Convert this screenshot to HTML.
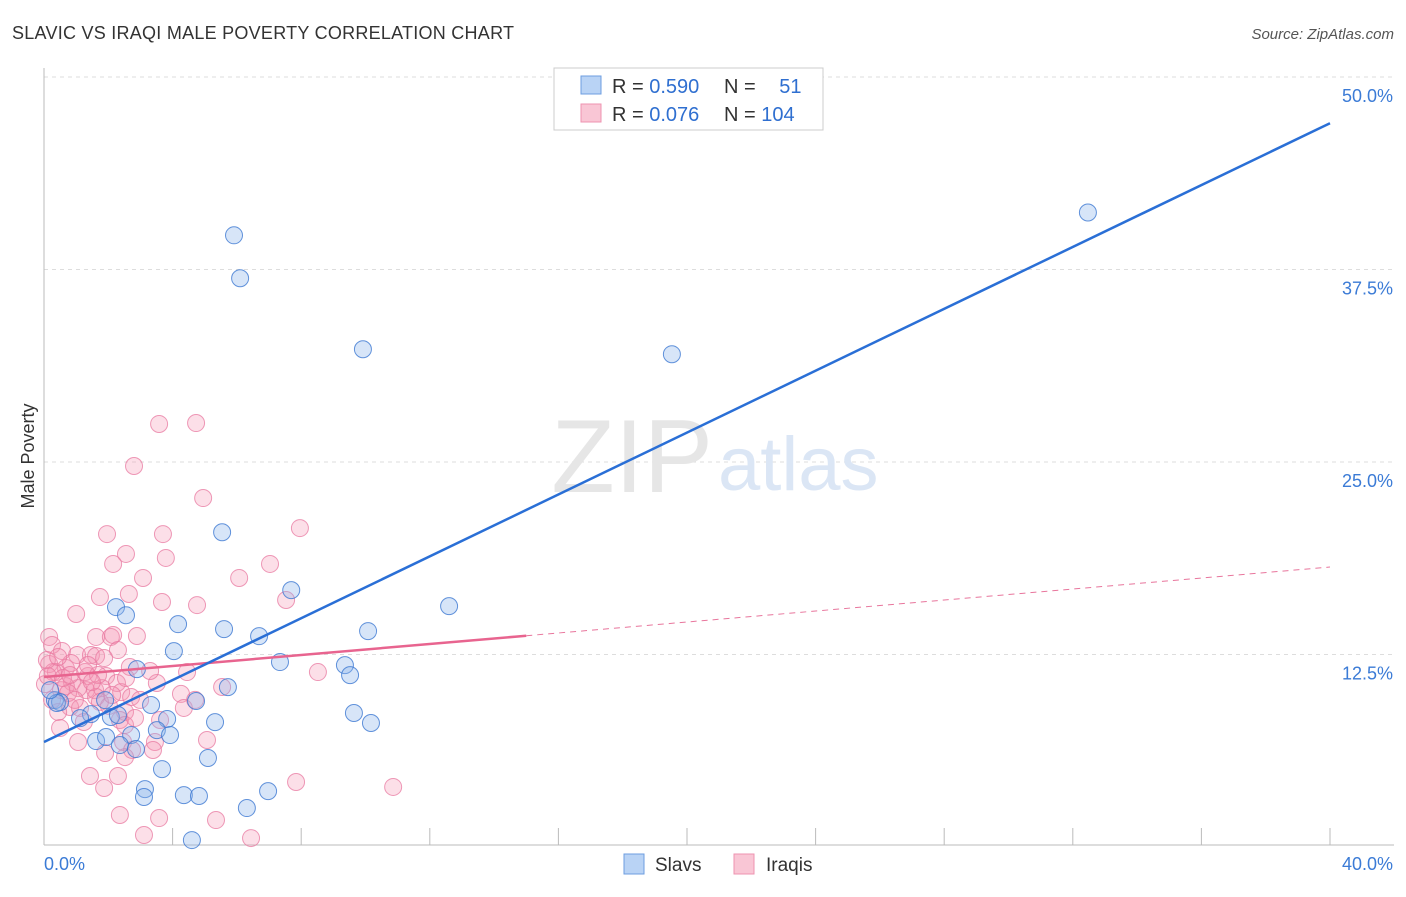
<!DOCTYPE html>
<html><head><meta charset="utf-8"><style>
body{margin:0;background:#fff;font-family:"Liberation Sans",sans-serif}
svg text{font-family:"Liberation Sans",sans-serif}
</style></head><body>
<svg id="chart" width="1406" height="892" xmlns="http://www.w3.org/2000/svg">
<text x="12" y="39" font-size="18" fill="#333" textLength="502" lengthAdjust="spacing">SLAVIC VS IRAQI MALE POVERTY CORRELATION CHART</text>
<text x="1394" y="39" font-size="15" fill="#555" font-style="italic" text-anchor="end">Source: ZipAtlas.com</text>
<g id="grid"></g>
<text x="713" y="492" font-size="104" fill="#e6e6e6" font-family="Liberation Serif" text-anchor="end">ZIP</text>
<text x="718" y="490" font-size="76" fill="#dbe6f5">atlas</text>
<g id="axes"></g>
<g id="marks"></g>
<text transform="translate(34,456) rotate(-90)" font-size="18" fill="#333" text-anchor="middle">Male Poverty</text>
<g>
<rect x="554" y="68" width="269" height="62" fill="#fff" stroke="#ccc"/>
<rect x="581" y="76" width="20" height="18" fill="#b9d3f5" stroke="#6d9ee0"/>
<rect x="581" y="104" width="20" height="18" fill="#f9c6d5" stroke="#ee93b0"/>
<text x="612" y="93" font-size="20" fill="#333">R = <tspan fill="#2f6fd0">0.590</tspan></text>
<text x="724" y="93" font-size="20" fill="#333">N = <tspan fill="#2f6fd0" dx="18">51</tspan></text>
<text x="612" y="121" font-size="20" fill="#333">R = <tspan fill="#2f6fd0">0.076</tspan></text>
<text x="724" y="121" font-size="20" fill="#333">N = <tspan fill="#2f6fd0">104</tspan></text>
</g>
<g>
<rect x="624" y="854" width="20" height="20" fill="#b9d3f5" stroke="#6d9ee0"/>
<text x="655" y="871" font-size="19" fill="#333">Slavs</text>
<rect x="734" y="854" width="20" height="20" fill="#f9c6d5" stroke="#ee93b0"/>
<text x="766" y="871" font-size="19" fill="#333">Iraqis</text>
</g>
</svg>
<script>
const yTicks=[12.5,25,37.5,50];
const yTickLabels=["12.5%","25.0%","37.5%","50.0%"];
const xTickCount=10;
const xLabels=["0.0%","40.0%"];
const slavX=[5.91,6.10,9.92,19.53,32.47,5.54,7.69,12.6,2.24,2.55,4.17,5.6,6.69,10.08,4.04,7.34,2.89,9.36,9.52,5.72,0.34,0.5,1.46,3.33,3.83,2.08,4.73,5.32,9.64,10.17,1.62,1.93,2.71,3.51,2.36,5.1,3.67,3.14,3.11,4.35,4.82,6.97,6.31,4.6,0.4,0.19,1.9,2.3,1.12,3.92,2.86];
const slavY=[39.72,36.93,32.32,32.0,41.2,20.44,16.68,15.64,15.58,15.05,14.47,14.15,13.69,14.02,12.72,12.01,11.55,11.81,11.16,10.38,9.54,9.41,8.63,9.22,8.31,8.44,9.48,8.11,8.70,8.05,6.88,7.14,7.27,7.59,6.62,5.78,5.06,3.76,3.25,3.37,3.31,3.63,2.53,0.45,9.35,10.19,9.54,8.57,8.37,7.27,6.36];
const iraqX=[3.58,4.73,2.8,4.95,1.96,3.7,7.96,2.55,3.79,2.15,7.03,3.08,6.07,1.74,2.64,3.67,4.76,7.53,1.0,1.62,2.08,2.15,2.89,0.16,0.25,0.56,1.03,1.46,1.62,2.3,1.87,2.67,3.51,4.45,8.52,0.68,0.84,0.16,0.37,0.87,1.37,1.93,1.31,2.27,0.03,0.53,0.68,1.06,1.59,1.8,2.4,2.71,4.26,5.54,1.62,0.81,0.44,1.12,2.02,2.52,3.61,2.36,1.24,4.35,4.7,0.5,2.52,3.45,1.06,1.9,2.46,3.39,5.07,2.74,2.52,1.43,1.87,2.3,7.84,10.86,2.36,3.58,3.11,5.35,6.44,0.25,0.75,0.28,0.96,1.74,2.83,1.28,0.12,0.59,0.81,1.68,2.99,2.12,0.09,0.44,1.49,2.55,3.3,1.37];
const iraqY=[27.47,27.53,24.74,22.66,20.32,20.32,20.71,19.03,18.77,18.38,18.38,17.47,17.47,16.23,16.43,15.91,15.71,16.04,15.13,13.64,13.64,13.77,13.7,13.64,13.12,12.73,12.47,12.47,12.4,12.79,12.27,11.69,10.65,11.36,11.36,11.62,11.95,11.88,11.36,10.71,11.1,11.1,10.19,10.65,10.58,10.19,10.45,10.32,10.19,10.32,10.06,9.74,9.94,10.39,9.74,9.09,8.77,9.03,9.16,8.77,8.25,8.25,8.12,9.03,9.55,7.73,7.92,6.82,6.82,6.1,6.82,6.3,6.95,6.3,5.84,4.61,3.83,4.61,4.22,3.9,2.08,1.88,0.78,1.75,0.58,9.55,10.0,11.36,9.55,9.42,8.38,11.36,11.1,10.97,11.17,11.17,9.55,9.87,12.14,12.34,10.71,10.97,11.43,11.82];
const slavTrend=[6.82,47.0];
const iraqTrend=[11.04,18.18];
const iraqSolidEnd=15.0;

const NS="http://www.w3.org/2000/svg";
const X0=44,X1=1330,Y0=847,YPER=15.4;
const xs=v=>X0+(v/40)*(X1-X0);
const ys=v=>Y0-v*YPER;
function mk(tag,attrs,parent){const e=document.createElementNS(NS,tag);for(const k in attrs)e.setAttribute(k,attrs[k]);parent.appendChild(e);return e;}
const grid=document.getElementById('grid'),axes=document.getElementById('axes'),marks=document.getElementById('marks');
yTicks.forEach((t,i)=>{
  const l=mk('line',{x1:X0,x2:1394,y1:ys(t),y2:ys(t),stroke:'#ddd','stroke-dasharray':'4,4'},grid);
  
  
  const tx=mk('text',{x:1393,y:ys(t)+25,'font-size':18,fill:'#3b7bd6','text-anchor':'end'},axes);
  tx.textContent=yTickLabels[i];
  
  
});
const ya=mk('line',{x1:X0,x2:X0,y1:68,y2:845,stroke:'#bbb'},axes);


const xa=mk('line',{x1:X0,x2:1394,y1:845,y2:845,stroke:'#bbb'},axes);


for(let k=0;k<=xTickCount;k++){
  const v=40*k/xTickCount;
  const t=mk('line',{x1:xs(v),x2:xs(v),y1:828,y2:845,stroke:'#bbb'},axes);
  
  
}
const xl0=mk('text',{x:44,y:870,'font-size':18,fill:'#3b7bd6'},axes);xl0.textContent=xLabels[0];


const xl1=mk('text',{x:1393,y:870,'font-size':18,fill:'#3b7bd6','text-anchor':'end'},axes);xl1.textContent=xLabels[1];


iraqX.forEach((x,i)=>{
  const c=mk('circle',{cx:xs(x),cy:ys(iraqY[i]),r:8.5,fill:'rgba(244,150,180,0.3)',stroke:'rgba(232,120,160,0.75)','stroke-width':1},marks);
  
  
});
slavX.forEach((x,i)=>{
  const c=mk('circle',{cx:xs(x),cy:ys(slavY[i]),r:8.5,fill:'rgba(140,180,235,0.35)',stroke:'rgba(60,120,210,0.8)','stroke-width':1},marks);
  
  
});
const iy=v=>iraqTrend[0]+(iraqTrend[1]-iraqTrend[0])*v/40;
const pd=mk('line',{x1:xs(iraqSolidEnd),y1:ys(iy(iraqSolidEnd)),x2:xs(40),y2:ys(iy(40)),stroke:'#e8759c','stroke-width':1,'stroke-dasharray':'6,5'},marks);


const ps=mk('line',{x1:xs(0),y1:ys(iy(0)),x2:xs(iraqSolidEnd),y2:ys(iy(iraqSolidEnd)),stroke:'#e8648f','stroke-width':2.5},marks);


const bl=mk('line',{x1:xs(0),y1:ys(slavTrend[0]),x2:xs(40),y2:ys(slavTrend[1]),stroke:'#2a6fd6','stroke-width':2.5},marks);


</script>
</body></html>
